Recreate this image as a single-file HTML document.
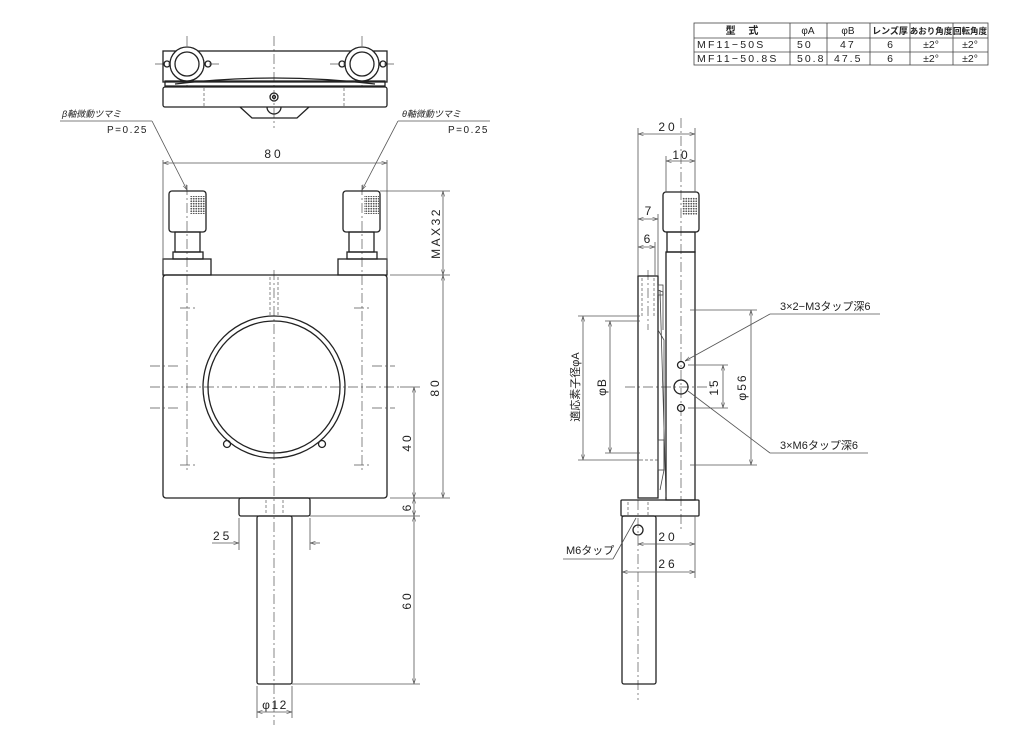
<!DOCTYPE html>
<html><head><meta charset="utf-8"><style>
html,body{margin:0;padding:0;background:#fff}
svg{display:block}
text{font-family:"Liberation Sans","Noto Sans CJK JP",sans-serif;fill:#222}
.o{fill:none;stroke:#222;stroke-width:1.3}
.t{fill:none;stroke:#444;stroke-width:0.8}
.c{fill:none;stroke:#555;stroke-width:0.7;stroke-dasharray:10 3 2 3}
.h{fill:none;stroke:#555;stroke-width:0.7;stroke-dasharray:3 2}
.d{fill:none;stroke:#555;stroke-width:0.8}
</style></head><body>
<svg width="1024" height="751" viewBox="0 0 1024 751" xmlns="http://www.w3.org/2000/svg">
<defs>
<marker id="a" viewBox="0 0 10 10" refX="10" refY="5" markerWidth="7" markerHeight="7" orient="auto-start-reverse"><path d="M0,2 L10,5 L0,8" fill="none" stroke="#555" stroke-width="1"/></marker>
<pattern id="dots" width="2.5" height="2.5" patternUnits="userSpaceOnUse"><circle cx="1.25" cy="1.25" r="0.9" fill="#555"/></pattern>
</defs>

<!-- TABLE -->
<g font-size="10.5">
<rect x="694" y="23" width="294" height="42" class="t" stroke="#222"/>
<line x1="694" y1="38" x2="988" y2="38" class="t"/>
<line x1="694" y1="52" x2="988" y2="52" class="t"/>
<line x1="790" y1="23" x2="790" y2="65" class="t"/>
<line x1="827" y1="23" x2="827" y2="65" class="t"/>
<line x1="870" y1="23" x2="870" y2="65" class="t"/>
<line x1="910" y1="23" x2="910" y2="65" class="t"/>
<line x1="953" y1="23" x2="953" y2="65" class="t"/>
<text x="742" y="34" text-anchor="middle" font-size="10" font-weight="bold">型　 式</text>
<text x="808" y="34" text-anchor="middle" font-size="10">φA</text>
<text x="848" y="34" text-anchor="middle" font-size="10">φB</text>
<text x="890" y="34" text-anchor="middle" font-size="9" font-weight="bold">レンズ厚</text>
<text x="931" y="34" text-anchor="middle" font-size="8.5" font-weight="bold">あおり角度</text>
<text x="970" y="34" text-anchor="middle" font-size="8.5" font-weight="bold">回転角度</text>
<text x="697" y="48" letter-spacing="2.2">MF11−50S</text>
<text x="797" y="48" letter-spacing="2">50</text>
<text x="840" y="48" letter-spacing="2">47</text>
<text x="890" y="48" text-anchor="middle">6</text>
<text x="931" y="48" text-anchor="middle">±2°</text>
<text x="970" y="48" text-anchor="middle">±2°</text>
<text x="697" y="62" letter-spacing="2.2">MF11−50.8S</text>
<text x="797" y="62" letter-spacing="2">50.8</text>
<text x="834" y="62" letter-spacing="2">47.5</text>
<text x="890" y="62" text-anchor="middle">6</text>
<text x="931" y="62" text-anchor="middle">±2°</text>
<text x="970" y="62" text-anchor="middle">±2°</text>
</g>

<!-- TOP VIEW -->
<line x1="274" y1="36" x2="274" y2="128" class="c"/>
<line x1="187" y1="36" x2="187" y2="90" class="c"/>
<line x1="362" y1="36" x2="362" y2="90" class="c"/>
<line x1="155" y1="64" x2="222" y2="64" class="c"/>
<line x1="330" y1="64" x2="395" y2="64" class="c"/>
<rect x="163" y="51" width="224" height="31" class="o"/>
<rect x="165" y="81" width="220" height="5" class="o"/>
<path d="M175,84 Q274,72 375,84" class="o"/>
<rect x="163" y="87" width="224" height="20" rx="2" class="o"/>
<line x1="204" y1="88" x2="204" y2="106" class="h"/>
<line x1="344" y1="88" x2="344" y2="106" class="h"/>
<circle cx="187" cy="64" r="17" fill="#fff" stroke="#222" stroke-width="1.3"/>
<circle cx="187" cy="64" r="12" class="o"/>
<circle cx="362" cy="64" r="17" fill="#fff" stroke="#222" stroke-width="1.3"/>
<circle cx="362" cy="64" r="12" class="o"/>
<circle cx="167" cy="64" r="3" class="o"/><circle cx="208" cy="64" r="3" class="o"/>
<circle cx="342" cy="64" r="3" class="o"/><circle cx="383" cy="64" r="3" class="o"/>
<circle cx="274" cy="97" r="4" class="o"/><circle cx="274" cy="97" r="1.5" class="o"/>
<path d="M240,107 L252,118 L297,118 L309,107" class="o"/>
<path d="M267,107 A7,7 0 0 0 281,107" class="o"/>

<!-- FRONT VIEW labels -->
<g font-size="10">
<text x="62" y="117" font-style="italic" font-size="9">β軸微動ツマミ</text>
<line x1="60" y1="121" x2="152" y2="121" class="d"/>
<text x="148" y="133" text-anchor="end" letter-spacing="1.5">P=0.25</text>
<line x1="152" y1="121" x2="187" y2="190" class="d" marker-end="url(#a)"/>
<text x="402" y="117" font-style="italic" font-size="9">θ軸微動ツマミ</text>
<line x1="398" y1="121" x2="490" y2="121" class="d"/>
<text x="489" y="133" text-anchor="end" letter-spacing="1.5">P=0.25</text>
<line x1="398" y1="121" x2="362" y2="190" class="d" marker-end="url(#a)"/>
</g>

<!-- FRONT VIEW -->
<line x1="274" y1="270" x2="274" y2="725" class="c"/>
<line x1="187" y1="185" x2="187" y2="470" class="c"/>
<line x1="362" y1="185" x2="362" y2="470" class="c"/>
<line x1="150" y1="387" x2="400" y2="387" class="c"/>
<g>
<rect x="169" y="191" width="37" height="41" rx="3" class="o"/>
<rect x="190" y="196" width="15" height="18" fill="url(#dots)"/>
<rect x="175" y="232" width="25" height="20" class="o"/>
<rect x="173" y="252" width="30" height="7" class="o"/>
<rect x="163" y="259" width="48" height="16" class="o"/>
<rect x="343" y="191" width="37" height="41" rx="3" class="o"/>
<rect x="364" y="196" width="15" height="18" fill="url(#dots)"/>
<rect x="349" y="232" width="25" height="20" class="o"/>
<rect x="347" y="252" width="30" height="7" class="o"/>
<rect x="338" y="259" width="49" height="16" class="o"/>
</g>
<rect x="163" y="275" width="224" height="223" rx="3" class="o"/>
<line x1="270" y1="277" x2="270" y2="316" class="h"/>
<line x1="278" y1="277" x2="278" y2="316" class="h"/>
<circle cx="274" cy="387" r="71" class="o"/>
<circle cx="274" cy="387" r="66" class="o"/>
<circle cx="227" cy="444" r="3.5" class="o"/>
<circle cx="322" cy="444" r="3.5" class="o"/>
<g class="c"><line x1="180" y1="308" x2="195" y2="308"/><line x1="180" y1="465" x2="195" y2="465"/><line x1="354" y1="308" x2="369" y2="308"/><line x1="354" y1="465" x2="369" y2="465"/>
<line x1="150" y1="366" x2="178" y2="366"/><line x1="150" y1="408" x2="178" y2="408"/><line x1="372" y1="366" x2="395" y2="366"/><line x1="372" y1="408" x2="395" y2="408"/></g>
<rect x="239" y="498" width="71" height="18" rx="2" class="o"/>
<line x1="266" y1="500" x2="266" y2="515" class="h"/><line x1="283" y1="500" x2="283" y2="515" class="h"/>
<rect x="257" y="516" width="35" height="168" rx="2" class="o"/>
<g font-size="12">
<line x1="163" y1="160" x2="163" y2="270" class="d"/>
<line x1="387" y1="160" x2="387" y2="270" class="d"/>
<line x1="163" y1="163" x2="387" y2="163" class="d" marker-start="url(#a)" marker-end="url(#a)"/>
<text x="274" y="158" text-anchor="middle" letter-spacing="3">80</text>
<line x1="380" y1="191" x2="450" y2="191" class="d"/>
<line x1="390" y1="275" x2="450" y2="275" class="d"/>
<line x1="390" y1="498" x2="450" y2="498" class="d"/>
<line x1="310" y1="516" x2="420" y2="516" class="d"/>
<line x1="292" y1="684" x2="420" y2="684" class="d"/>
<line x1="443" y1="191" x2="443" y2="275" class="d" marker-start="url(#a)" marker-end="url(#a)"/>
<text transform="translate(440,233) rotate(-90)" text-anchor="middle" letter-spacing="2.5">MAX32</text>
<line x1="443" y1="275" x2="443" y2="498" class="d" marker-start="url(#a)" marker-end="url(#a)"/>
<text transform="translate(439,387) rotate(-90)" text-anchor="middle" letter-spacing="3">80</text>
<line x1="414" y1="387" x2="414" y2="498" class="d" marker-start="url(#a)" marker-end="url(#a)"/>
<line x1="400" y1="387" x2="420" y2="387" class="d"/>
<text transform="translate(411,442) rotate(-90)" text-anchor="middle" letter-spacing="3">40</text>
<line x1="414" y1="498" x2="414" y2="516" class="d" marker-start="url(#a)" marker-end="url(#a)"/>
<text transform="translate(411,508) rotate(-90)" text-anchor="middle">6</text>
<line x1="414" y1="516" x2="414" y2="684" class="d" marker-start="url(#a)" marker-end="url(#a)"/>
<text transform="translate(411,600) rotate(-90)" text-anchor="middle" letter-spacing="3">60</text>
<line x1="239" y1="518" x2="239" y2="550" class="d"/><line x1="310" y1="518" x2="310" y2="550" class="d"/>
<line x1="212" y1="543" x2="239" y2="543" class="d" marker-end="url(#a)"/>
<line x1="320" y1="543" x2="310" y2="543" class="d" marker-end="url(#a)"/>
<text x="213" y="540" letter-spacing="3">25</text>
<line x1="257" y1="686" x2="257" y2="718" class="d"/><line x1="292" y1="686" x2="292" y2="718" class="d"/>
<line x1="257" y1="712" x2="292" y2="712" class="d" marker-start="url(#a)" marker-end="url(#a)"/>
<text x="275" y="709" text-anchor="middle" letter-spacing="1.5">φ12</text>
</g>

<!-- SIDE VIEW -->
<line x1="681" y1="118" x2="681" y2="530" class="c"/>
<line x1="638" y1="500" x2="638" y2="700" class="c"/>
<line x1="625" y1="387" x2="715" y2="387" class="c"/>
<line x1="648" y1="270" x2="648" y2="330" class="c"/>
<rect x="663" y="192" width="36" height="40" rx="3" class="o"/>
<rect x="682" y="197" width="15" height="18" fill="url(#dots)"/>
<rect x="667" y="232" width="28" height="20" class="o"/>
<rect x="666" y="252" width="29" height="248" class="o"/>
<rect x="638" y="276" width="20" height="222" class="o"/>
<line x1="642" y1="278" x2="642" y2="316" class="h"/><line x1="654" y1="278" x2="654" y2="316" class="h"/>
<line x1="640" y1="460" x2="658" y2="460" class="h"/>
<path d="M658,290 L663,292 L663,330 M658,330 L664,340 L664,470 L660,490 M660,290 L666,497" class="t"/>
<rect x="658" y="285" width="5" height="10" class="t"/><rect x="658" y="440" width="6" height="30" class="t"/>
<circle cx="681" cy="365" r="3.5" class="o"/>
<circle cx="681" cy="387" r="7" class="o"/>
<circle cx="681" cy="408" r="3.5" class="o"/>
<rect x="621" y="500" width="78" height="16" rx="1" class="o"/>
<line x1="628" y1="502" x2="628" y2="515" class="h"/><line x1="648" y1="502" x2="648" y2="515" class="h"/>
<rect x="622" y="516" width="34" height="168" rx="2" class="o"/>
<circle cx="638" cy="530" r="5" class="o"/>
<g font-size="12">
<line x1="638" y1="128" x2="638" y2="276" class="d"/>
<line x1="695" y1="128" x2="695" y2="192" class="d"/>
<line x1="666" y1="156" x2="666" y2="192" class="d"/>
<line x1="638" y1="134" x2="695" y2="134" class="d" marker-start="url(#a)" marker-end="url(#a)"/>
<text x="668" y="131" text-anchor="middle" letter-spacing="3">20</text>
<line x1="666" y1="161" x2="695" y2="161" class="d" marker-start="url(#a)" marker-end="url(#a)"/>
<text x="681" y="159" text-anchor="middle" letter-spacing="2">10</text>
<line x1="658" y1="214" x2="658" y2="276" class="d"/>
<line x1="638" y1="219" x2="658" y2="219" class="d" marker-start="url(#a)" marker-end="url(#a)"/>
<text x="648" y="215" text-anchor="middle">7</text>
<line x1="655" y1="242" x2="655" y2="276" class="d"/>
<line x1="638" y1="247" x2="655" y2="247" class="d" marker-start="url(#a)" marker-end="url(#a)"/>
<text x="647" y="243" text-anchor="middle">6</text>
<line x1="578" y1="316" x2="640" y2="316" class="d"/><line x1="578" y1="460" x2="640" y2="460" class="d"/>
<line x1="583" y1="316" x2="583" y2="460" class="d" marker-start="url(#a)" marker-end="url(#a)"/>
<text transform="translate(579,387) rotate(-90)" text-anchor="middle" font-size="11">適応素子径φA</text>
<line x1="605" y1="321" x2="640" y2="321" class="d"/><line x1="605" y1="453" x2="640" y2="453" class="d"/>
<line x1="610" y1="321" x2="610" y2="453" class="d" marker-start="url(#a)" marker-end="url(#a)"/>
<text transform="translate(606,387) rotate(-90)" text-anchor="middle" letter-spacing="1">φB</text>
<line x1="690" y1="310" x2="757" y2="310" class="d"/><line x1="690" y1="465" x2="757" y2="465" class="d"/>
<line x1="751" y1="310" x2="751" y2="465" class="d" marker-start="url(#a)" marker-end="url(#a)"/>
<text transform="translate(746,387) rotate(-90)" text-anchor="middle" letter-spacing="2">φ56</text>
<line x1="688" y1="365" x2="728" y2="365" class="d"/><line x1="688" y1="408" x2="728" y2="408" class="d"/>
<line x1="723" y1="365" x2="723" y2="408" class="d" marker-start="url(#a)" marker-end="url(#a)"/>
<text transform="translate(718,387) rotate(-90)" text-anchor="middle" letter-spacing="2">15</text>
<line x1="695" y1="516" x2="695" y2="578" class="d"/>
<line x1="638" y1="544" x2="695" y2="544" class="d" marker-start="url(#a)" marker-end="url(#a)"/>
<text x="668" y="541" text-anchor="middle" letter-spacing="3">20</text>
<line x1="622" y1="572" x2="695" y2="572" class="d" marker-start="url(#a)" marker-end="url(#a)"/>
<text x="668" y="568" text-anchor="middle" letter-spacing="3">26</text>
<text x="780" y="310" font-size="11">3×2−M3タップ深6</text>
<line x1="770" y1="314" x2="880" y2="314" class="d"/>
<line x1="770" y1="314" x2="685" y2="361" class="d" marker-end="url(#a)"/>
<text x="780" y="449" font-size="11">3×M6タップ深6</text>
<line x1="770" y1="453" x2="868" y2="453" class="d"/>
<line x1="770" y1="453" x2="688" y2="391" class="d"/>
<text x="566" y="554" font-size="11">M6タップ</text>
<line x1="563" y1="559" x2="613" y2="559" class="d"/>
<line x1="613" y1="559" x2="636" y2="518" class="d"/>
</g>
</svg>
</body></html>
